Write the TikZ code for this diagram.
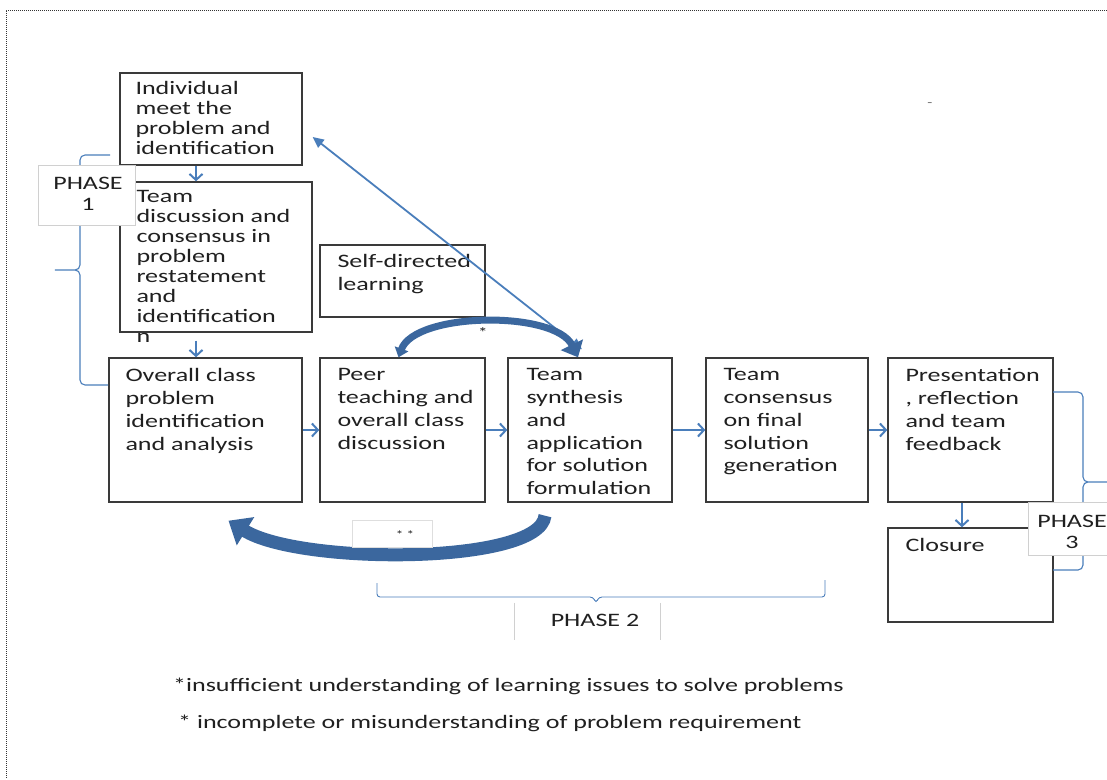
\documentclass[tikz,border=0pt]{standalone}
\usepackage{fontspec}
\setmainfont[FakeStretch=1.37]{Carlito}
\usetikzlibrary{arrows.meta}
\definecolor{ablue}{HTML}{4A7EBB}
\definecolor{dblue}{HTML}{3B679E}
\definecolor{boxline}{HTML}{3A3A3A}
\definecolor{txtc}{HTML}{202020}
\definecolor{lblline}{HTML}{D0D0D0}
\begin{document}
\begin{tikzpicture}[x=1pt,y=-1pt,
  box/.style={draw=boxline, line width=1.4pt, fill=white, inner sep=0pt},
  lbl/.style={draw=lblline, line width=0.8pt, fill=white, inner sep=0pt},
  txt/.style={anchor=north west, inner sep=0pt, align=left, text=txtc, font=\fontsize{19}{20}\selectfont},
  txtb/.style={txt, font=\fontsize{19}{22.8}\selectfont},
  ptxt/.style={inner sep=0pt, align=center, text=txtc, font=\fontsize{19}{21}\selectfont},
  arr/.style={ablue, line width=2pt, -{Straight Barb[length=6pt,width=13pt]}},
  brace/.style={ablue, line width=1.1pt, rounded corners=5pt}]
\useasboundingbox (0,0) rectangle (1107,779);
\clip (0,0) rectangle (1107,779);
\fill[white] (0,0) rectangle (1107,779);
\draw[densely dotted, line width=1pt, black!80] (1107,10) -- (6,10) -- (6,779);

% boxes
\node[box, minimum width=182pt, minimum height=92pt] (ind) at (211,119) {};
\node[box, minimum width=192pt, minimum height=150pt] (team) at (216,257) {};
\node[box, minimum width=165pt, minimum height=72pt] (self) at (402.5,281) {};
\node[box, minimum width=193pt, minimum height=144pt] (overall) at (205.5,430) {};
\node[box, minimum width=165pt, minimum height=144pt] (peer) at (402.5,430) {};
\node[box, minimum width=164pt, minimum height=144pt] (synth) at (590,430) {};
\node[box, minimum width=162pt, minimum height=144pt] (cons) at (787,430) {};
\node[box, minimum width=165pt, minimum height=144pt] (pres) at (970.5,430) {};
\node[box, minimum width=165pt, minimum height=94pt] (clos) at (970.5,575) {};

% braces
\draw[brace] (110,155) -- (80,155) -- (80,270) -- (52,270) -- (80,270) -- (80,385) -- (108,385);
\draw[brace] (1053,392) -- (1083,392) -- (1083,482) -- (1110,482) -- (1083,482) -- (1083,570) -- (1053,570);
\draw[ablue, line width=0.9pt, rounded corners=3pt] (377,583) -- (377,597) -- (593,597) -- (596,603) -- (599,597) -- (825,597) -- (825,580);

% phase labels
\node[lbl, minimum width=97pt, minimum height=60pt] (p1) at (86.5,195) {};
\node[ptxt] (p1t) at (88,194) {PHASE\\1};
\node[lbl, minimum width=102pt, minimum height=53pt] (p3) at (1079,528.5) {};
\node[ptxt] (p3t) at (1072,532) {PHASE\\3};
\node[inner sep=0pt, minimum width=145pt, minimum height=37pt] (p2) at (587.5,621.5) {};
\draw[lblline, line width=0.8pt] (p2.north west) -- (p2.south west);
\draw[lblline, line width=0.8pt] (p2.north east) -- (p2.south east);
\node[ptxt] (p2t) at (595,620) {PHASE 2};

% texts
\node[txt] (indt) at ([shift={(16,9)}]ind.north west) {Individual\\meet the\\problem and\\identification};
\node[txt] (teamt) at ([shift={(17,9)}]team.north west) {Team\\discussion and\\consensus in\\problem\\restatement\\and\\identification\\n};
\node[txtb] (selft) at ([shift={(18,10)}]self.north west) {Self-directed\\learning};
\node[txtb] (overallt) at ([shift={(17,11)}]overall.north west) {Overall class\\problem\\identification\\and analysis};
\node[txtb] (peert) at ([shift={(18,11)}]peer.north west) {Peer\\teaching and\\overall class\\discussion};
\node[txtb] (syntht) at ([shift={(19,11)}]synth.north west) {Team\\synthesis\\and\\application\\for solution\\formulation};
\node[txtb] (const) at ([shift={(18,11)}]cons.north west) {Team\\consensus\\on final\\solution\\generation};
\node[txtb] (prest) at ([shift={(18,11)}]pres.north west) {Presentation\\, reflection\\and team\\feedback};
\node[txtb] (clost) at ([shift={(18,11)}]clos.north west) {Closure};

% straight arrows
\draw[arr] ([xshift=-15pt]ind.south) -- ([xshift=-20pt]team.north);
\draw[arr] ([shift={(-20,8)}]team.south) -- ([xshift=-9.5pt]overall.north);
\draw[arr] (overall.east) -- (peer.west);
\draw[arr] (peer.east) -- (synth.west);
\draw[arr] (synth.east) -- (cons.west);
\draw[arr] (cons.east) -- (pres.west);
\draw[arr] ([xshift=-8.5pt]pres.south) -- ([xshift=-8.5pt]clos.north);

% diagonal double arrow
\draw[ablue, line width=1.8pt, {Triangle[length=11pt,width=10pt]}-{Triangle[length=11pt,width=10pt]}]
  ([shift={(10,18)}]ind.east) -- ([shift={(-8,-8)}]synth.north);

% thick curved arrows
\draw[dblue, line width=7pt, {Triangle[length=9pt,width=14pt]}-{Triangle[length=14pt,width=24pt]}]
  ([xshift=-4pt]peer.north) .. controls (415,312) and (555,310) .. ([xshift=-12pt]synth.north);
\node[inner sep=0pt, text=txtc, font=\fontsize{14}{14}\selectfont] (star1) at (483,333) {*};

\draw[dblue, line width=13pt, -{Triangle[length=20pt,width=32pt]}]
  ([shift={(-45,13)}]synth.south) .. controls (540,565) and (300,565) .. ([shift={(23,18)}]overall.south);
\node[lbl, draw=lblline!70, minimum width=80pt, minimum height=27pt] (p4) at (392,533.5) {};
\node[inner sep=0pt, text=txtc, font=\fontsize{11}{11}\selectfont] (star2) at (405,535) {* *};

% footnotes
\node[anchor=base west, inner sep=0pt, text=txtc, font=\fontsize{19}{20}\selectfont] (fn1) at (173,691) {*insufficient understanding of learning issues to solve problems};
\node[anchor=base west, inner sep=0pt, text=txtc, font=\fontsize{19}{20}\selectfont] (fn2) at (178,728) {* incomplete or misunderstanding of problem requirement};
\node[inner sep=0pt, text=black!60, font=\fontsize{12}{12}\selectfont] (dash) at (930,105) {-};
\end{tikzpicture}
\end{document}
